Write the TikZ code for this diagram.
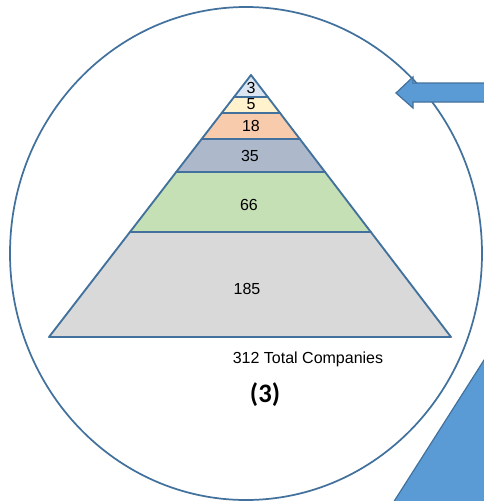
\documentclass[tikz,border=0pt]{standalone}
\usepackage{fontspec}
\setmainfont{Liberation Sans}
\newfontfamily\boldcal{Carlito}
\usetikzlibrary{calc}

\definecolor{edgeblue}{HTML}{41719C}
\definecolor{fillblue}{HTML}{5B9BD5}
\definecolor{tierA}{HTML}{DCE6F2}
\definecolor{tierB}{HTML}{FFF2CC}
\definecolor{tierC}{HTML}{F8CBAD}
\definecolor{tierD}{HTML}{ADB9CA}
\definecolor{tierE}{HTML}{C5E0B4}
\definecolor{tierF}{HTML}{D9D9D9}

\tikzset{
  tier/.style={draw=edgeblue,line width=1.4pt,line join=round},
  count/.style={font=\fontsize{12}{14}\selectfont},
  blockarrow/.style={draw=edgeblue,fill=fillblue,line width=0.9pt,line join=miter}
}

\begin{document}
\begin{tikzpicture}[x=0.75pt,y=-0.75pt]
\useasboundingbox (0,0) rectangle (484,501);

% outer ring
\draw[edgeblue,line width=1.3pt] (246,253.5) ellipse [x radius=236,y radius=246.5];

% pyramid tiers, top to bottom
\coordinate (apex) at (251,75);
\coordinate (bl) at (49,337);
\coordinate (br) at (451,337);
\foreach \ta/\tb/\col in {0/0.084/tierA,0.084/0.145/tierB,0.145/0.244/tierC,
                          0.244/0.370/tierD,0.370/0.599/tierE,0.599/1/tierF}
  \filldraw[tier,fill=\col] ($(apex)!\ta!(bl)$) -- ($(apex)!\tb!(bl)$)
      -- ($(apex)!\tb!(br)$) -- ($(apex)!\ta!(br)$) -- cycle;

\node[count] (n3)   at (251,88)  {3};
\node[count] (n5)   at (251,104) {5};
\node[count] (n18)  at (251,126) {18};
\node[count] (n35)  at (250,156) {35};
\node[count] (n66)  at (249,205) {66};
\node[count] (n185) at (247,289) {185};

\node[count] (total) at (308,359) {312 Total Companies};
\node[font=\boldcal\bfseries\fontsize{20}{24}\selectfont] (tag) at (265,395) {(3)};

% arrow and corner shape
\filldraw[blockarrow] (486,83) -- (413,83) -- (413,77) -- (396,93)
    -- (413,108) -- (413,102) -- (486,102);
\filldraw[blockarrow] (393,503) -- (486,357) -- (486,503) -- cycle;
\end{tikzpicture}
\end{document}
